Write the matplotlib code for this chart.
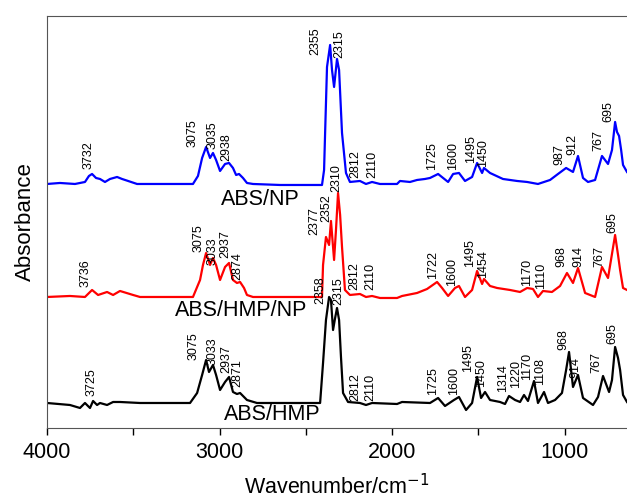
import numpy as np
import matplotlib.pyplot as plt

plt.rcParams['font.family'] = ['Liberation Sans', 'DejaVu Sans']

# spectra (wavenumber, stacked absorbance in arbitrary units)
np_wn = [4000, 3925, 3838, 3780, 3757, 3739, 3716, 3693, 3664, 3635, 3594, 3565, 3530, 3478, 3345,
         3154, 3125, 3101, 3078, 3055, 3038, 3020, 2997, 2968, 2945, 2922, 2904, 2887, 2864, 2841,
         2806, 2649, 2406, 2394, 2388, 2377, 2359, 2348, 2336, 2319, 2307, 2290, 2267, 2244, 2186,
         2151, 2116, 2070, 1971, 1954, 1896, 1855, 1809, 1780, 1733, 1704, 1675, 1646, 1612, 1577,
         1536, 1507, 1478, 1467, 1432, 1357, 1275, 1217, 1154, 1084, 1038, 991, 951, 922, 893, 864,
         823, 783, 748, 725, 707, 696, 684, 672, 661, 638]
np_abs = [2.44, 2.45, 2.44, 2.46, 2.52, 2.54, 2.50, 2.49, 2.46, 2.49, 2.51, 2.49, 2.47, 2.44, 2.44,
          2.44, 2.52, 2.70, 2.81, 2.70, 2.75, 2.68, 2.57, 2.64, 2.65, 2.60, 2.53, 2.54, 2.50, 2.45,
          2.44, 2.43, 2.43, 2.58, 2.95, 3.61, 3.83, 3.58, 3.41, 3.69, 3.58, 2.95, 2.55, 2.46, 2.47,
          2.44, 2.46, 2.44, 2.44, 2.47, 2.46, 2.48, 2.49, 2.50, 2.54, 2.50, 2.46, 2.54, 2.55, 2.47,
          2.51, 2.65, 2.55, 2.60, 2.55, 2.49, 2.47, 2.46, 2.44, 2.48, 2.54, 2.60, 2.56, 2.72, 2.50, 2.46,
          2.48, 2.72, 2.64, 2.78, 3.06, 2.96, 2.92, 2.78, 2.63, 2.56]

hmpnp_wn = [4000, 3867, 3780, 3739, 3704, 3652, 3617, 3577, 3501, 3461, 3154, 3113, 3096, 3078, 3055,
            3038, 3020, 2997, 2968, 2945, 2922, 2899, 2881, 2858, 2841, 2806, 2406, 2400, 2383, 2365,
            2354, 2336, 2325, 2313, 2301, 2290, 2273, 2244, 2186, 2151, 2116, 2070, 1971, 1942, 1855,
            1797, 1739, 1710, 1675, 1635, 1612, 1577, 1536, 1507, 1478, 1467, 1432, 1391, 1316, 1258,
            1217, 1183, 1154, 1125, 1073, 1026, 986, 951, 922, 881, 823, 783, 748, 707, 690, 678, 661, 638]
hmpnp_abs = [1.31, 1.32, 1.31, 1.38, 1.33, 1.36, 1.33, 1.37, 1.33, 1.31, 1.31, 1.48, 1.63, 1.75, 1.63,
             1.70, 1.63, 1.48, 1.61, 1.65, 1.48, 1.45, 1.46, 1.40, 1.33, 1.31, 1.31, 1.63, 1.91, 1.83,
             2.07, 1.68, 1.98, 2.35, 2.13, 1.81, 1.38, 1.33, 1.34, 1.31, 1.32, 1.30, 1.30, 1.32, 1.35,
             1.39, 1.46, 1.40, 1.32, 1.40, 1.42, 1.31, 1.38, 1.57, 1.44, 1.49, 1.42, 1.40, 1.38, 1.36,
             1.40, 1.39, 1.31, 1.37, 1.36, 1.42, 1.55, 1.45, 1.60, 1.35, 1.31, 1.61, 1.50, 1.93, 1.73, 1.58, 1.40, 1.38]

hmp_wn = [4000, 3867, 3809, 3780, 3751, 3733, 3710, 3693, 3652, 3617, 3577, 3461, 3171, 3130, 3101,
          3078, 3061, 3038, 3020, 2997, 2968, 2945, 2922, 2899, 2881, 2841, 2783, 2417, 2400, 2383,
          2365, 2354, 2342, 2330, 2319, 2307, 2296, 2284, 2255, 2186, 2151, 2116, 1971, 1942, 1780,
          1733, 1693, 1641, 1612, 1571, 1536, 1507, 1484, 1461, 1432, 1374, 1345, 1322, 1287, 1258,
          1235, 1212, 1177, 1154, 1119, 1096, 1055, 1015, 991, 974, 951, 922, 893, 835, 806, 777,
          742, 725, 707, 690, 678, 661, 638]
hmp_abs = [0.25, 0.23, 0.20, 0.25, 0.20, 0.27, 0.23, 0.25, 0.23, 0.26, 0.26, 0.25, 0.25, 0.35, 0.53,
           0.68, 0.56, 0.63, 0.53, 0.38, 0.46, 0.51, 0.36, 0.34, 0.35, 0.28, 0.25, 0.25, 0.65, 1.08,
           1.31, 1.28, 0.98, 1.10, 1.20, 1.08, 0.71, 0.35, 0.26, 0.25, 0.23, 0.25, 0.24, 0.26, 0.25,
           0.30, 0.22, 0.28, 0.31, 0.18, 0.25, 0.51, 0.30, 0.36, 0.28, 0.26, 0.24, 0.32, 0.28, 0.26,
           0.33, 0.27, 0.47, 0.25, 0.36, 0.25, 0.28, 0.35, 0.58, 0.76, 0.41, 0.53, 0.30, 0.23, 0.31, 0.52,
           0.36, 0.48, 0.81, 0.70, 0.58, 0.33, 0.26]

# peak labels: text, x position, y position of the label's lower end
np_peaks = ["3732", "3075", "3035", "2938", "2355", "2315", "2812", "2110", "1725", "1600",
            "1495", "1450", "987", "912", "767", "695"]
np_peak_x = [3757, 3154, 3038, 2962, 2446, 2307, 2215, 2116, 1768, 1646, 1542, 1472, 1032, 957, 806, 748]
np_peak_y = [2.59, 2.81, 2.79, 2.67, 3.73, 3.70, 2.50, 2.50, 2.58, 2.58, 2.65, 2.61, 2.63, 2.73, 2.77, 3.06]

hmpnp_peaks = ["3736", "3075", "3033", "2937", "2874", "2377", "2352", "2310", "2812", "2110",
               "1722", "1600", "1495", "1454", "1170", "1110", "968", "914", "767", "695"]
hmpnp_peak_x = [3774, 3119, 3043, 2968, 2899, 2452, 2383, 2325, 2220, 2128,
                1762, 1652, 1548, 1472, 1217, 1136, 1020, 922, 800, 725]
hmpnp_peak_y = [1.41, 1.76, 1.63, 1.70, 1.48, 1.93, 2.06, 2.36, 1.38, 1.38,
                1.49, 1.42, 1.61, 1.50, 1.42, 1.39, 1.61, 1.61, 1.61, 1.95]

hmp_peaks = ["3725", "3075", "3033", "2937", "2871", "2358", "2315", "2812", "2110", "1725", "1600",
             "1495", "1450", "1314", "1220", "1170", "1108", "968", "914", "767", "695"]
hmp_peak_x = [3739, 3148, 3043, 2962, 2899, 2417, 2313, 2215, 2128, 1762, 1641,
              1559, 1484, 1357, 1281, 1217, 1142, 1009, 939, 817, 725]
hmp_peak_y = [0.32, 0.68, 0.63, 0.55, 0.41, 1.24, 1.23, 0.27, 0.27, 0.33, 0.33,
              0.56, 0.41, 0.36, 0.40, 0.48, 0.43, 0.78, 0.50, 0.55, 0.84]

names = ["ABS/NP", "ABS/HMP/NP", "ABS/HMP"]
name_x = [2765, 2875, 2696]
name_y = [2.28, 1.17, 0.13]

fig = plt.figure(figsize=(6.27, 4.99), dpi=100)
ax = fig.add_axes([0.075, 0.1423, 0.925, 0.8257])

ax.plot(np_wn, np_abs, color="#0000ff", lw=1.6)
ax.plot(hmpnp_wn, hmpnp_abs, color="#ff0000", lw=1.6)
ax.plot(hmp_wn, hmp_abs, color="black", lw=1.6)

for labels, xs, ys in [(np_peaks, np_peak_x, np_peak_y),
                       (hmpnp_peaks, hmpnp_peak_x, hmpnp_peak_y),
                       (hmp_peaks, hmp_peak_x, hmp_peak_y)]:
    for t, x, y in zip(labels, xs, ys):
        ax.text(x, y, t, rotation=90, ha="center", va="bottom", fontsize=9)

for t, x, y in zip(names, name_x, name_y):
    ax.text(x, y, t, ha="center", va="center", fontsize=15.5)

ax.set_xlim(4000, 638)
ax.set_ylim(0, 4.12)
ax.set_xticks([4000, 3000, 2000, 1000])
ax.set_xticks([3500, 2500, 1500], minor=True)
ax.tick_params(axis="x", which="both", direction="out", length=5, width=1, labelsize=15.5, pad=5)
ax.set_yticks([])
ax.spines["right"].set_visible(False)
for s in ["left", "top", "bottom"]:
    ax.spines[s].set_color("#555555")
ax.set_xlabel("Wavenumber/cm$^{-1}$", fontsize=15.5, labelpad=8)
ax.set_ylabel("Absorbance", fontsize=16, labelpad=8)

fig.savefig("out.png", dpi=100)
